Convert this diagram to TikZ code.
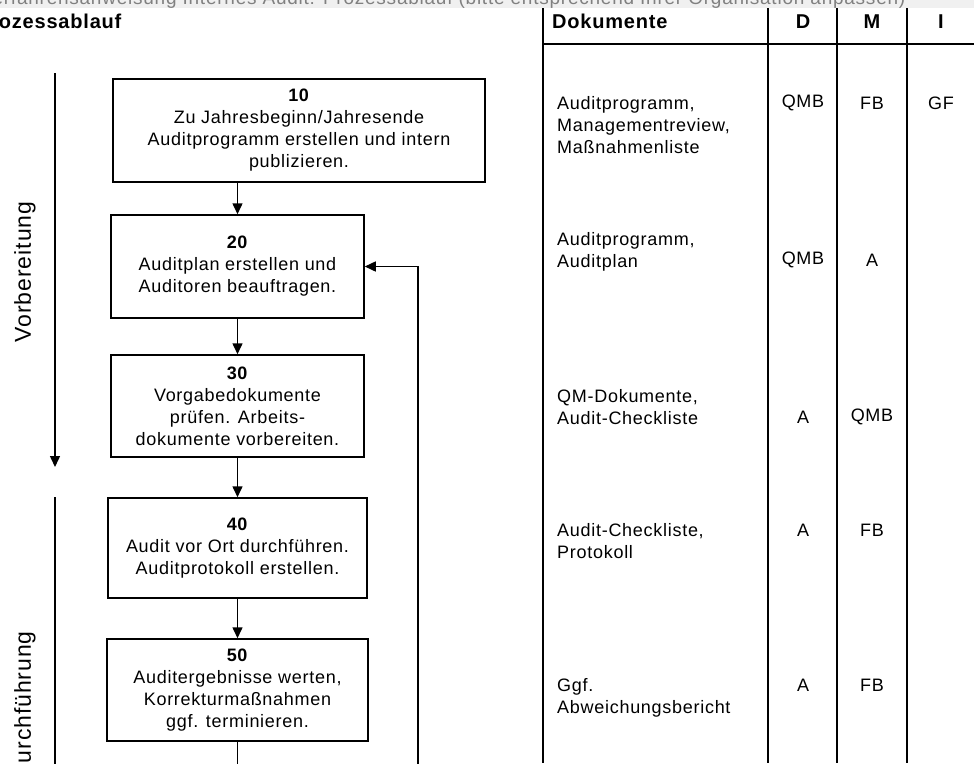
\documentclass[tikz,border=0pt]{standalone}
\usepackage{fontspec}
\setmainfont{Liberation Sans}[LetterSpace=4]
\usetikzlibrary{arrows.meta,calc,positioning}
\tikzset{
  box/.style={draw,line width=1.5pt,align=center,inner sep=2pt,font=\fontsize{18}{22}\selectfont},
  doc/.style={anchor=north west,align=left,inner sep=0pt,font=\fontsize{18}{22}\selectfont},
  role/.style={inner sep=0pt,font=\fontsize{18}{22}\selectfont},
  head/.style={inner sep=0pt,font=\fontsize{20}{24}\selectfont\bfseries},
  phase/.style={rotate=90,inner sep=0pt,font=\fontsize{23}{27}\selectfont},
  flow/.style={line width=1.5pt,-{Triangle[length=11pt,width=10pt]}},
  grid/.style={line width=1.5pt}
}
\begin{document}
\begin{tikzpicture}[x=1pt,y=-1pt]
\useasboundingbox (0,0) rectangle (974,763);
\clip (0,0) rectangle (974,763);
\fill[gray!12] (0,0) rectangle (974,8);
\node[anchor=base west,inner sep=0pt,text=gray,font=\fontsize{19}{22}\selectfont] (title) at (-20,4) {Verfahrensanweisung Internes Audit: Prozessablauf (bitte entsprechend Ihrer Organisation anpassen)};
\node[head,anchor=base west] (hproc) at (-24,28) {Prozessablauf};
\node[head,anchor=base west] (hdok) at (552,28) {Dokumente};
\node[head,anchor=base] (hd) at (803,28) {D};
\node[head,anchor=base] (hm) at (872,28) {M};
\node[head,anchor=base] (hi) at (941,28) {I};
\draw[grid] (543,8) -- (543,763);
\draw[grid] (768,8) -- (768,763);
\draw[grid] (837,8) -- (837,763);
\draw[grid] (907,8) -- (907,763);
\draw[grid] (543,44) -- (974,44);
\node[box,minimum width=372,minimum height=103] (b10) at (299,130.5) {\textbf{10}\\Zu Jahresbeginn/Jahresende\\Auditprogramm erstellen und intern\\publizieren.};
\node[box,minimum width=253,minimum height=103] (b20) at (237.5,266.5) {\textbf{20}\\Auditplan erstellen und\\Auditoren beauftragen.};
\node[box,minimum width=253,minimum height=102] (b30) at (237.5,406) {\textbf{30}\\Vorgabedokumente\\prüfen. Arbeits-\\dokumente vorbereiten.};
\node[box,minimum width=259,minimum height=100] (b40) at (237.5,548) {\textbf{40}\\Audit vor Ort durchführen.\\Auditprotokoll erstellen.};
\node[box,minimum width=261,minimum height=102] (b50) at (237.5,690) {\textbf{50}\\Auditergebnisse werten,\\Korrekturmaßnahmen\\ggf. terminieren.};
\coordinate (out50) at (237.5,770);
\coordinate (loopend) at (418,770);
\draw[flow] (b10.south -| b20.north) -- (b20.north);
\draw[flow] (b20) -- (b30);
\draw[flow] (b30) -- (b40);
\draw[flow] (b40) -- (b50);
\draw[grid] (b50.south) -- (out50);
\draw[flow] (loopend) |- (b20.east);
\coordinate (vtop) at (55,73);
\coordinate (vbot) at (55,467);
\coordinate (dtop) at (55,497);
\coordinate (dbot) at (55,770);
\draw[flow] (vtop) -- (vbot);
\draw[grid] (dtop) -- (dbot);
\node[phase] (pvor) at (25,272) {Vorbereitung};
\node[phase] (pdurch) at (25,706) {Durchführung};
\node[doc] (d10) at (557,96.5) {Auditprogramm,\\Managementreview,\\Maßnahmenliste};
\node[doc] (d20) at (557,232.5) {Auditprogramm,\\Auditplan};
\node[doc] (d30) at (557,389.5) {QM-Dokumente,\\Audit-Checkliste};
\node[doc] (d40) at (557,523.5) {Audit-Checkliste,\\Protokoll};
\node[doc] (d50) at (557,678.5) {Ggf.\\Abweichungsbericht};
\node[role] (rd10) at (803,103) {QMB};
\node[role] (rm10) at (872,103) {FB};
\node[role] (ri10) at (941,103) {GF};
\node[role] (rd20) at (803,260) {QMB};
\node[role] (rm20) at (872,260) {A};
\node[role] (rd30) at (803,417) {A};
\node[role] (rm30) at (872,417) {QMB};
\node[role] (rd40) at (803,530) {A};
\node[role] (rm40) at (872,530) {FB};
\node[role] (rd50) at (803,685) {A};
\node[role] (rm50) at (872,685) {FB};
\end{tikzpicture}
\end{document}
